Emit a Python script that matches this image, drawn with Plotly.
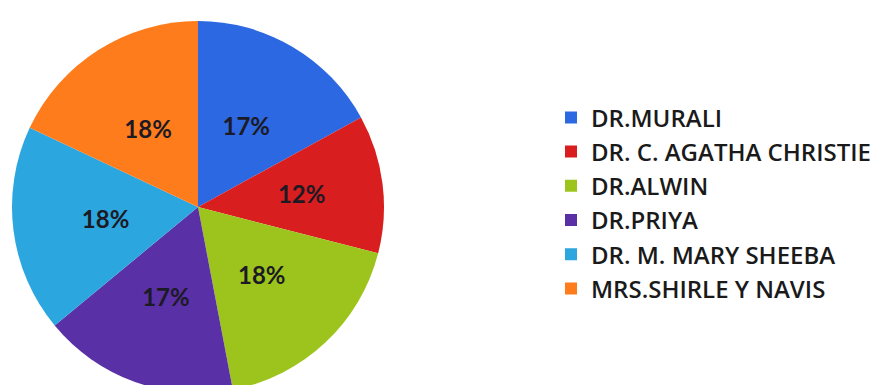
import plotly.graph_objects as go

names = ["DR.MURALI", "DR. C. AGATHA CHRISTIE", "DR.ALWIN", "DR.PRIYA",
         "DR. M. MARY SHEEBA", "MRS.SHIRLE Y NAVIS"]
shares = [17, 12, 18, 17, 18, 18]
colors = ["#2B68E2", "#D81E1E", "#9DC41C", "#5A30A6", "#2BA6DF", "#FF7C1C"]

W, H = 888, 385
top = 13
plot_h = H - top
cx, r = 190, 186
r_in = 143

fig = go.Figure()
# coloured slices (with legend)
fig.add_trace(go.Pie(
    labels=names,
    values=shares,
    sort=False,
    direction="clockwise",
    rotation=0,
    marker=dict(colors=colors, line=dict(width=0)),
    textinfo="none",
    domain=dict(x=[(cx - r) / W, (cx + r) / W], y=[0, 1]),
    hoverinfo="label+percent",
))
# percentage labels placed nearer the centre
fig.add_trace(go.Pie(
    labels=names,
    values=shares,
    sort=False,
    direction="clockwise",
    rotation=0,
    marker=dict(colors=["rgba(0,0,0,0)"] * len(names), line=dict(width=0)),
    textinfo="percent",
    textposition="inside",
    insidetextorientation="horizontal",
    insidetextfont=dict(family="Lato", size=24, color="#1c1a24", weight="bold"),
    domain=dict(x=[(cx - r_in) / W, (cx + r_in) / W],
                y=[0.5 - r_in / plot_h, 0.5 + r_in / plot_h]),
    hoverinfo="skip",
    showlegend=False,
))

fig.update_layout(
    width=W, height=H,
    margin=dict(l=0, r=0, t=top, b=0),
    paper_bgcolor="white",
    plot_bgcolor="white",
    showlegend=True,
    legend=dict(
        x=543 / W, xanchor="left",
        y=0.51, yanchor="middle",
        font=dict(family="Open Sans", size=24, color="#1a1a1a", weight=600),
        itemwidth=30,
        bgcolor="rgba(0,0,0,0)",
    ),
)

fig.write_html("out.html")
